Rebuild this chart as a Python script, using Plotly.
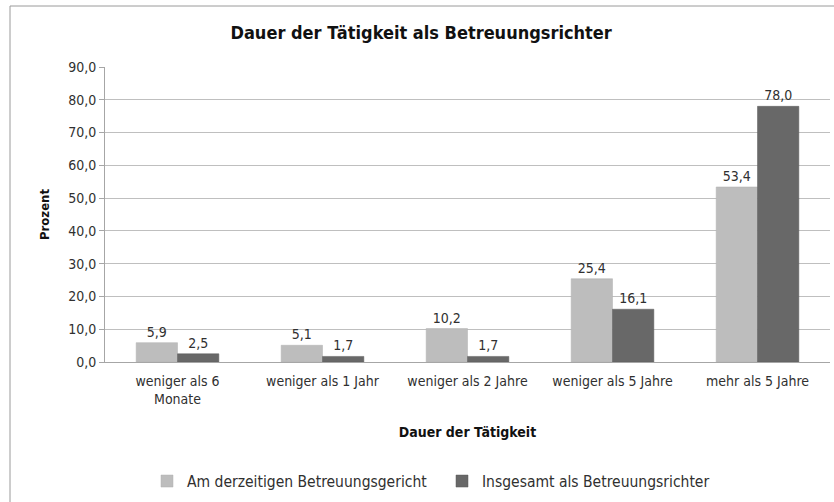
import plotly.graph_objects as go

categories = ["weniger als 6<br>Monate", "weniger als 1 Jahr", "weniger als 2 Jahre",
              "weniger als 5 Jahre", "mehr als 5 Jahre"]
current_court = [5.9, 5.1, 10.2, 25.4, 53.4]
total_judge = [2.5, 1.7, 1.7, 16.1, 78.0]
series_names = ["Am derzeitigen Betreuungsgericht", "Insgesamt als Betreuungsrichter"]
y_ticks = [0, 10, 20, 30, 40, 50, 60, 70, 80, 90]

FONT = "DejaVu Sans Condensed, Liberation Sans Narrow, sans-serif"

fig = go.Figure()
fig.add_trace(go.Bar(
    x=categories, y=current_court, name=series_names[0],
    marker=dict(color="#bdbdbd", line=dict(color="#b0b0b0", width=0.5)),
    texttemplate="%{y:.1f}", textposition="outside",
    textfont=dict(size=14, color="#303030", family=FONT), cliponaxis=False,
))
fig.add_trace(go.Bar(
    x=categories, y=total_judge, name=series_names[1],
    marker=dict(color="#686868", line=dict(color="#5a5a5a", width=0.5)),
    texttemplate="%{y:.1f}", textposition="outside",
    textfont=dict(size=14, color="#303030", family=FONT), cliponaxis=False,
))

fig.update_layout(
    width=834, height=502,
    separators=",.",
    barmode="group", bargap=0.43, bargroupgap=0,
    plot_bgcolor="white", paper_bgcolor="white",
    font=dict(family=FONT, size=14, color="#303030"),
    margin=dict(l=105, r=4, t=67, b=140, autoexpand=False),
    title=dict(text="<b>Dauer der Tätigkeit als Betreuungsrichter</b>",
               x=0.505, xanchor="center", y=0.935, yanchor="middle",
               font=dict(size=18, color="#111111", family=FONT)),
    xaxis=dict(
        showline=True, linecolor="#a6a6a6", linewidth=1,
        ticks="outside", ticklen=6, tickcolor="rgba(0,0,0,0)",
        tickfont=dict(size=14, color="#303030"),
        title=dict(text="<b>Dauer der Tätigkeit</b>", standoff=21,
                   font=dict(size=14, color="#111111")),
    ),
    yaxis=dict(
        range=[0, 90], tickvals=y_ticks, tickformat=".1f",
        showgrid=True, gridcolor="#bfbfbf", gridwidth=1,
        showline=True, linecolor="#a6a6a6", linewidth=1,
        ticks="outside", ticklen=5, tickcolor="#a6a6a6",
        tickfont=dict(size=14, color="#303030"),
        title=dict(text="<b>Prozent</b>", standoff=15,
                   font=dict(size=13, color="#111111")),
        zeroline=False,
    ),
    legend=dict(orientation="h", x=(147 - 105) / 725, xanchor="left", y=-0.405, yanchor="middle",
                font=dict(size=15.5, color="#303030"), itemwidth=30, traceorder="normal",
                entrywidth=250, entrywidthmode="pixels", bgcolor="rgba(0,0,0,0)"),
    shapes=[dict(type="rect", xref="paper", yref="paper",
                 x0=(10 - 105) / 725, x1=(845 - 105) / 725,
                 y0=(362 - 515) / 295, y1=(362 - 6) / 295,
                 line=dict(color="#9a9a9a", width=1), layer="below")],
)

fig.write_html("out.html", config={"displayModeBar": False},
               post_script="document.body.style.margin='0px';")
